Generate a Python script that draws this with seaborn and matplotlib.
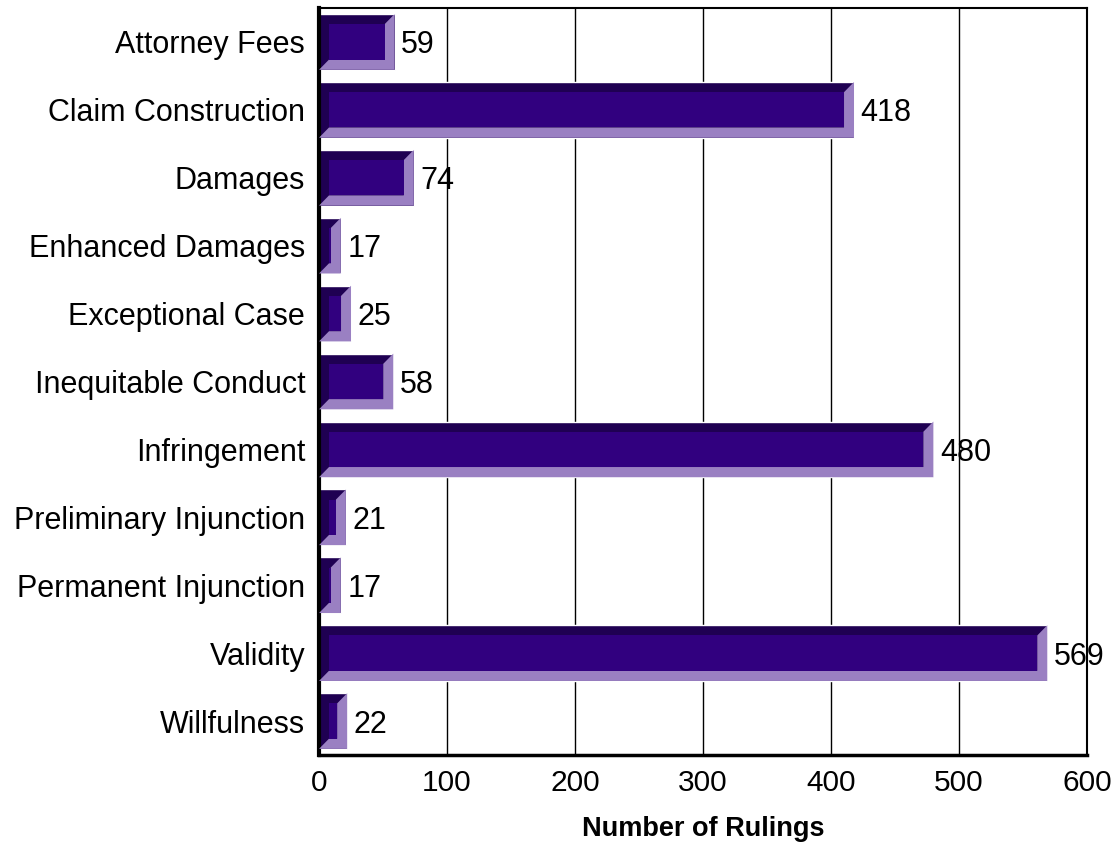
import numpy as np
import pandas as pd
import seaborn as sns
import matplotlib
matplotlib.use("Agg")
import matplotlib.pyplot as plt
from matplotlib.patches import Polygon, Rectangle

categories = ["Attorney Fees", "Claim Construction", "Damages", "Enhanced Damages",
              "Exceptional Case", "Inequitable Conduct", "Infringement",
              "Preliminary Injunction", "Permanent Injunction", "Validity", "Willfulness"]
rulings = [59, 418, 74, 17, 25, 58, 480, 21, 17, 569, 22]

df = pd.DataFrame({"issue": categories, "rulings": rulings})

dark = "#1f0052"
face = "#31007f"
light = "#9a80c2"

sns.set_style("white")
plt.rcParams["font.family"] = ["Liberation Sans", "DejaVu Sans"]

fig = plt.figure(figsize=(11.17, 8.48), dpi=100)
ax = fig.add_axes([0.2856, 0.1097, 0.9731 - 0.2856, 0.9906 - 0.1097])

bar_h = 0.82
sns.barplot(data=df, x="rulings", y="issue", orient="h", color=dark,
            width=bar_h, saturation=1, ax=ax, zorder=2)

# bevel: light right/bottom edges and an inset face
dx, dy = 7.8, 0.15
for i, v in enumerate(rulings):
    top, bot = i - bar_h / 2, i + bar_h / 2
    ax.add_patch(Polygon([(0, bot), (v, bot), (v, top), (v - dx, top + dy),
                          (v - dx, bot - dy), (dx, bot - dy)],
                         closed=True, facecolor=light, edgecolor="none", zorder=3))
    ax.add_patch(Rectangle((dx, top + dy), max(v - 2 * dx, 0.5), bar_h - 2 * dy,
                           facecolor=face, edgecolor="none", zorder=4))
    ax.text(v + 5, i, str(v), va="center_baseline", ha="left", fontsize=22,
            color="black", zorder=5)

ax.set_xlim(0, 600)
ax.set_ylim(len(categories) - 0.5, -0.5)
ax.set_xticks(range(0, 601, 100))
ax.xaxis.grid(True, color="black", linewidth=1)
ax.yaxis.grid(False)
ax.set_axisbelow(True)
for s in ax.spines.values():
    s.set_color("black")
    s.set_linewidth(1.5)
ax.spines["left"].set_linewidth(3)
ax.spines["bottom"].set_linewidth(2.5)
ax.tick_params(axis="both", length=0, labelsize=21.5, colors="black")
ax.tick_params(axis="y", pad=10, labelsize=22)
ax.tick_params(axis="x", pad=10)
ax.set_ylabel("")
ax.set_xlabel("Number of Rulings", fontsize=19.5, fontweight="bold",
              color="black", labelpad=14)

fig.savefig("out.png", dpi=100)
